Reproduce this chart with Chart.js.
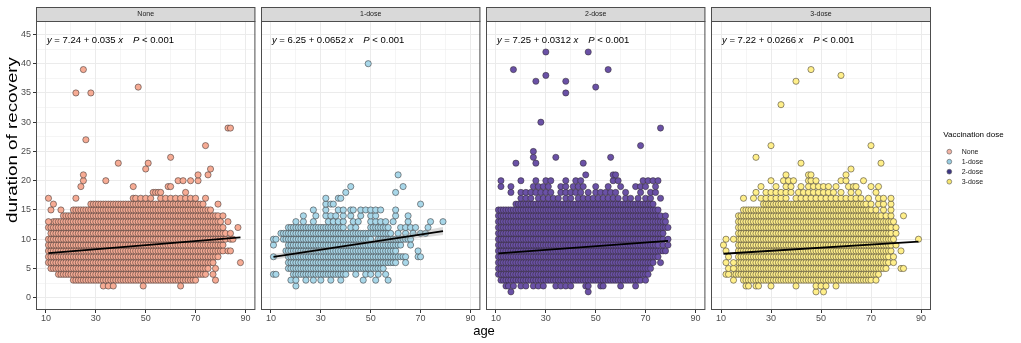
<!DOCTYPE html>
<html>
<head>
<meta charset="utf-8">
<script src="https://cdn.jsdelivr.net/npm/chart.js@4/dist/chart.umd.min.js"></script>
<style>
  html, body { margin: 0; padding: 0; background: #fff; }
  #wrap { position: relative; width: 1021px; height: 343px; overflow: hidden; }
  #wrap canvas { position: absolute; top: 0; }
</style>
</head>
<body>
<div id="wrap"></div>
<script>
// facets and legend
const doses = ["None", "1-dose", "2-dose", "3-dose"];
const legendTitle = "Vaccination dose";
const xTitle = "age";
const yTitle = "duration of recovery";

// regression fits printed on each facet
const intercepts = [7.24, 6.25, 7.25, 7.22];
const slopes = [0.035, 0.0652, 0.0312, 0.0266];
const pTexts = ["< 0.001", "< 0.001", "< 0.001", "< 0.001"];
const lineFrom = [11, 11, 11, 11];
const lineTo = [88, 79, 79, 89];

// confidence band visible on the 1-dose fit
const ciAges = [11, 38, 79];
const ciHalfWidth = [0.5, 0.2, 0.7];

// axis ticks
const xTickLabels = [10, 30, 50, 70, 90];
const xMinor = [20, 40, 60, 80];
const yTickLabels = [0, 5, 10, 15, 20, 25, 30, 35, 40, 45];
const yMinor = [2.5, 7.5, 12.5, 17.5, 22.5, 27.5, 32.5, 37.5, 42.5];

// points: rows where every age in [from, to] is filled, as [duration, from, to]
// and scattered points as [duration, [ages]]
const noneBands = [
    [3, 21, 70], [4, 15, 74], [5, 12, 75], [6, 11, 77], [7, 11, 79], [8, 11, 81], [9, 11, 81],
    [10, 11, 82], [11, 12, 82], [12, 11, 81], [13, 13, 80], [14, 17, 79], [15, 21, 76], [16, 28, 73]
];
const noneSparse = [
    [2, [33, 35, 37, 49, 64]], [3, [78]], [4, [77]], [5, [78]], [6, [88]], [8, [83, 84]],
    [10, [84, 85]], [11, [84]], [12, [87]], [13, [11, 83]], [14, [81]], [15, [12, 16]], [16, [13, 79]],
    [17, [11, 22, 45, 46, 48, 50, 52, 56, 58, 60, 62, 64, 66, 68, 70, 74]],
    [18, [53, 54, 55, 56, 66]], [19, [24, 45, 59, 60]], [20, [25, 34, 63, 65, 68, 71]],
    [21, [25, 71, 75]], [22, [50, 76]], [23, [39, 51]], [24, [60]], [26, [74]], [27, [26]],
    [29, [83, 84]], [35, [22, 28]], [36, [47]], [39, [25]]
];

const oneBands = [
    [4, 19, 40], [5, 17, 55], [6, 17, 60], [7, 17, 64], [8, 16, 60], [9, 17, 62],
    [10, 15, 50], [10, 53, 66], [11, 14, 58], [12, 17, 39], [12, 50, 57]
];
const oneSparse = [
    [2, [20]], [3, [18, 20, 24, 27, 30, 34, 38, 47, 52, 57]], [4, [11, 12, 44, 48, 50, 53, 56]],
    [6, [64]], [7, [11, 69, 70]], [8, [69]], [9, [11, 66]], [10, [11, 12]],
    [11, [61, 64, 67, 70, 72]], [12, [42, 44, 62, 64, 66, 68, 73]],
    [13, [20, 23, 27, 33, 35, 37, 39, 43, 45, 50, 52, 54, 56, 59, 65, 74, 79]],
    [14, [23, 28, 32, 34, 36, 39, 42, 46, 50, 52, 60, 65]],
    [15, [27, 32, 37, 39, 42, 43, 46, 48, 50, 52, 54, 60]],
    [16, [32, 34, 35, 70]], [17, [32, 37, 38]], [18, [40, 60]], [19, [42, 63]], [21, [61]], [40, [49]]
];

const twoBands = [
    [3, 12, 68], [4, 11, 71], [5, 11, 72], [6, 11, 73], [7, 11, 75], [8, 11, 78], [9, 11, 75],
    [10, 11, 77], [11, 11, 77], [12, 11, 79], [13, 11, 78], [14, 11, 76], [15, 11, 75], [16, 18, 73]
];
const twoSparse = [
    [1, [16, 47]], [2, [14, 15, 17, 20, 22, 25, 27, 29, 34, 36, 38, 40, 46, 47, 52, 53, 60, 66]],
    [3, [70]], [6, [76]], [9, [77, 79]], [10, [79]], [14, [78]],
    [17, [20, 22, 24, 27, 29, 31, 33, 35, 38, 40, 43, 45, 47, 49, 51, 53, 55, 57, 59, 62, 64, 67, 70, 72, 76]],
    [18, [16, 20, 22, 24, 26, 28, 30, 32, 36, 38, 40, 42, 44, 47, 50, 52, 54, 56, 58, 62, 68, 72, 74]],
    [19, [12, 16, 25, 27, 29, 31, 36, 38, 41, 43, 45, 50, 55, 60, 66, 68, 70, 74]],
    [20, [12, 20, 26, 30, 32, 38, 42, 44, 57, 59, 69, 71, 73, 75]],
    [21, [46, 57, 58]], [23, [18, 26, 45]], [24, [25, 34, 56]], [25, [25]], [26, [68]],
    [29, [76]], [30, [28]], [35, [38]], [36, [50]], [37, [26, 38]], [38, [30]], [39, [17, 55]], [42, [30, 47]]
];

const threeBands = [
    [3, 19, 70], [4, 15, 73], [5, 17, 76], [6, 17, 77], [7, 17, 77], [8, 17, 78], [9, 17, 78],
    [10, 17, 78], [11, 17, 78], [12, 17, 78], [13, 17, 78], [14, 17, 74], [15, 19, 70], [16, 27, 68]
];
const threeSparse = [
    [1, [48, 51]], [2, [20, 21, 24, 25, 30, 40, 48, 50, 52, 56]], [3, [15, 72]], [4, [12, 13]],
    [5, [13, 15, 82, 83]], [6, [12, 15, 79]], [7, [13, 79]], [8, [12, 82]], [9, [11, 80]],
    [10, [12, 15, 79, 89]], [11, [80]], [12, [80]], [13, [79]], [14, [76, 78, 83]],
    [15, [72, 75, 78]], [16, [70, 73, 75, 78]],
    [17, [19, 23, 26, 28, 30, 32, 34, 36, 40, 42, 44, 46, 48, 50, 52, 54, 56, 58, 60, 62, 64, 66, 69, 73, 75, 78]],
    [18, [24, 28, 30, 32, 34, 36, 38, 41, 43, 45, 47, 49, 51, 53, 55, 58, 62, 65, 72]],
    [19, [26, 32, 36, 38, 42, 45, 47, 49, 51, 53, 56, 61, 63, 64, 70, 73]],
    [20, [30, 35, 37, 39, 45, 46, 48, 58, 60, 67]],
    [21, [36, 45, 46, 60]], [22, [62]], [23, [42, 74]], [24, [24]], [26, [30, 70]],
    [33, [34]], [37, [40]], [38, [58]], [39, [46]]
];

const bands = [noneBands, oneBands, twoBands, threeBands];
const sparse = [noneSparse, oneSparse, twoSparse, threeSparse];

// look
const FONT = '"Liberation Sans", Arial, sans-serif';
const pointFills = ["#F6AB94", "#A8D7E9", "#6A51A6", "#FFEF8A"];
const legendFills = ["#F3B3A3", "#98CDE2", "#3C3584", "#F6E56E"];
const PANEL_W = 220;
const AXIS_W = 36;
const panelLefts = [36, 261, 486, 711];

Chart.defaults.font.family = FONT;

// turn the read rows into points
const buildPoints = (rows, extra) => {
    const pts = [];
    rows.forEach(([d, from, to]) => {
        for (let a = from; a <= to; a++) pts.push({ x: a, y: d });
    });
    extra.forEach(([d, ages]) => ages.forEach((a) => pts.push({ x: a, y: d })));
    return pts;
};

// draw text pieces, some in italic
const drawRich = (ctx, x, y, parts, size) => {
    ctx.textBaseline = "middle";
    ctx.textAlign = "left";
    parts.forEach(([txt, italic, gapAfter]) => {
        ctx.font = (italic ? "italic " : "") + size + "px " + FONT;
        ctx.fillText(txt, x, y);
        x += ctx.measureText(txt).width + (gapAfter || 0);
    });
};

const wrap = document.getElementById("wrap");

const makePanel = (i) => {
    const left = panelLefts[i] - AXIS_W;
    const width = i === 3 ? 1021 - left : AXIS_W + PANEL_W + 4;
    const canvas = document.createElement("canvas");
    canvas.width = width;
    canvas.height = 343;
    canvas.style.left = left + "px";
    wrap.appendChild(canvas);

    const isMajorX = (c) => c.tick && xTickLabels.includes(c.tick.value);
    const isMajorY = (c) => c.tick && yTickLabels.includes(c.tick.value);

    const datasets = [
        {
            type: "scatter",
            data: buildPoints(bands[i], sparse[i]),
            backgroundColor: pointFills[i],
            borderColor: "rgba(45,40,40,0.85)",
            borderWidth: 0.6,
            pointRadius: 3.1,
            order: 3,
        },
        {
            type: "line",
            data: [
                { x: lineFrom[i], y: intercepts[i] + slopes[i] * lineFrom[i] },
                { x: lineTo[i], y: intercepts[i] + slopes[i] * lineTo[i] },
            ],
            borderColor: "#000",
            borderWidth: 1.8,
            pointRadius: 0,
            fill: false,
            order: 0,
        },
    ];
    if (i === 1) {
        // grey ribbon around the 1-dose fit
        datasets.push({
            type: "line",
            data: ciAges.map((a, k) => ({ x: a, y: intercepts[i] + slopes[i] * a + ciHalfWidth[k] })),
            borderWidth: 0,
            pointRadius: 0,
            backgroundColor: "rgba(150,150,150,0.35)",
            fill: "+1",
            order: 1,
        });
        datasets.push({
            type: "line",
            data: ciAges.map((a, k) => ({ x: a, y: intercepts[i] + slopes[i] * a - ciHalfWidth[k] })),
            borderWidth: 0,
            pointRadius: 0,
            fill: false,
            order: 1,
        });
    }

    const decor = {
        id: "decor" + i,
        afterDraw: (chart) => {
            const ctx = chart.ctx;
            const area = chart.chartArea;
            const xs = chart.scales.x;
            const ys = chart.scales.y;
            ctx.save();
            // panel border
            ctx.strokeStyle = "#4D4D4D";
            ctx.lineWidth = 1;
            ctx.strokeRect(area.left + 0.5, area.top + 0.5, area.right - area.left - 1, area.bottom - area.top - 1);
            // strip
            ctx.fillStyle = "#D9D9D9";
            ctx.fillRect(area.left, 7, area.right - area.left, area.top - 7);
            ctx.strokeRect(area.left + 0.5, 7.5, area.right - area.left - 1, area.top - 7);
            ctx.fillStyle = "#1A1A1A";
            ctx.font = "7px " + FONT;
            ctx.textAlign = "center";
            ctx.textBaseline = "middle";
            ctx.fillText(doses[i], (area.left + area.right) / 2, (area.top + 7) / 2 + 0.5);
            // fit equation
            ctx.fillStyle = "#000";
            drawRich(ctx, xs.getPixelForValue(10.4), ys.getPixelForValue(44), [
                ["y", true],
                [" = " + intercepts[i] + " + " + slopes[i] + " ", false],
                ["x", true, 10],
                ["P", true],
                [" " + pTexts[i], false],
            ], 9.5);
            // shared axis titles and legend
            if (i === 0) {
                ctx.translate(12.8, 140);
                ctx.rotate(-Math.PI / 2);
                ctx.font = "14px " + FONT;
                const w = ctx.measureText(yTitle).width;
                ctx.scale(166 / w, 1);
                ctx.textAlign = "center";
                ctx.fillText(yTitle, 0, 0);
            }
            if (i === 2) {
                ctx.font = "13px " + FONT;
                ctx.textAlign = "center";
                ctx.fillText(xTitle, 484 - left, 331);
            }
            if (i === 3) {
                ctx.font = "8px " + FONT;
                ctx.textAlign = "left";
                ctx.fillStyle = "#000";
                ctx.fillText(legendTitle, 943.3 - left, 135);
                doses.forEach((name, k) => {
                    const cy = 151.7 + k * 10;
                    ctx.beginPath();
                    ctx.arc(949.3 - left, cy, 2.4, 0, Math.PI * 2);
                    ctx.fillStyle = legendFills[k];
                    ctx.fill();
                    ctx.strokeStyle = "#555";
                    ctx.lineWidth = 0.6;
                    ctx.stroke();
                    ctx.fillStyle = "#1A1A1A";
                    ctx.font = "7px " + FONT;
                    ctx.fillText(name, 961.7 - left, cy + 0.3);
                });
            }
            ctx.restore();
        },
    };

    new Chart(canvas, {
        data: { datasets },
        options: {
            responsive: false,
            animation: false,
            events: [],
            layout: { padding: { top: 21, left: 0, bottom: 0, right: width - AXIS_W - PANEL_W } },
            plugins: { legend: { display: false }, tooltip: { enabled: false } },
            scales: {
                x: {
                    type: "linear",
                    min: 6,
                    max: 94,
                    afterBuildTicks: (s) => {
                        s.ticks = xTickLabels.concat(xMinor).map((v) => ({ value: v }));
                    },
                    afterFit: (s) => {
                        s.height = 33;
                    },
                    ticks: {
                        autoSkip: false,
                        maxRotation: 0,
                        padding: 0,
                        color: "#4D4D4D",
                        font: { size: 9 },
                        callback: (v) => (xTickLabels.includes(v) ? String(v) : ""),
                    },
                    grid: {
                        color: "#EBEBEB",
                        lineWidth: (c) => (isMajorX(c) ? 1 : 0.5),
                        tickColor: (c) => (isMajorX(c) ? "#333" : "rgba(0,0,0,0)"),
                        tickWidth: 1,
                        tickLength: 3,
                    },
                    border: { display: false },
                },
                y: {
                    type: "linear",
                    min: -2.1,
                    max: 47.3,
                    afterBuildTicks: (s) => {
                        s.ticks = yTickLabels.concat(yMinor).map((v) => ({ value: v }));
                    },
                    afterFit: (s) => {
                        s.width = AXIS_W;
                    },
                    ticks: {
                        display: i === 0,
                        autoSkip: false,
                        padding: 2,
                        color: "#4D4D4D",
                        font: { size: 9 },
                        callback: (v) => (yTickLabels.includes(v) ? String(v) : ""),
                    },
                    grid: {
                        color: "#EBEBEB",
                        lineWidth: (c) => (isMajorY(c) ? 1 : 0.5),
                        drawTicks: i === 0,
                        tickColor: (c) => (isMajorY(c) ? "#333" : "rgba(0,0,0,0)"),
                        tickWidth: 1,
                        tickLength: 3,
                    },
                    border: { display: false },
                },
            },
        },
        plugins: [decor],
    });
};

doses.forEach((d, i) => makePanel(i));
</script>
</body>
</html>
